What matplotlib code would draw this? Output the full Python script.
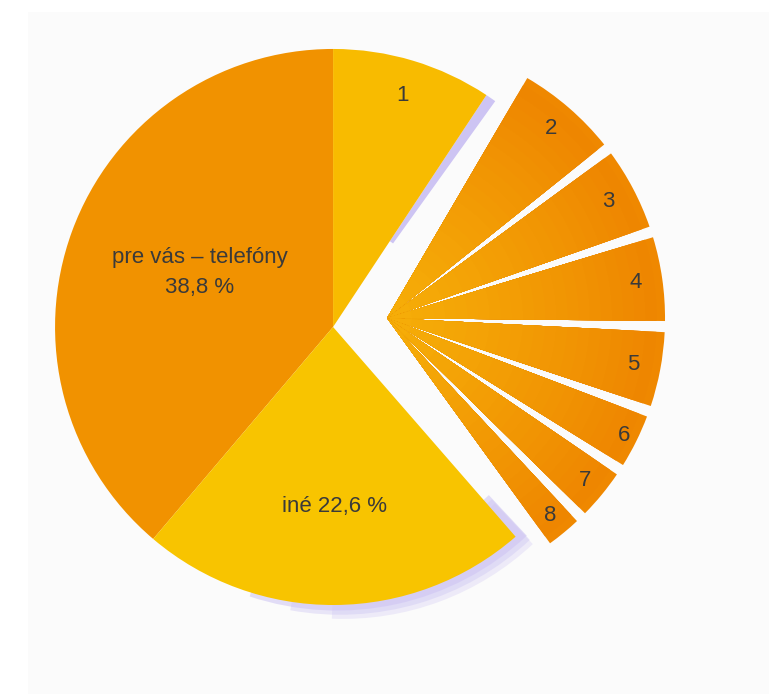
import numpy as np
import matplotlib
matplotlib.use("Agg")
import matplotlib.pyplot as plt
from matplotlib.patches import Wedge, Rectangle
from matplotlib.colors import to_rgb

# Shares of the main pie (%), counter-clockwise from 12 o'clock
main_names = ["pre vás – telefóny\n38,8 %", "iné 22,6 %", "", "1"]
main_values = [38.8, 22.6, 29.3, 9.3]
main_colors = ["#f19200", "#f8c400", "#ffffff", "#f8bb00"]
main_label_dist = [0.51, 0.645, 0.0, 0.87]
main_label_nudge = [4, 0, 0, 0]   # vertical nudge in points

# Breakdown of the detached block, clockwise from the top
group_names = ["2", "3", "4", "5", "6", "7", "8"]
group_values = [5.9, 4.9, 5.0, 4.5, 3.4, 3.2, 2.4]
group_label_dist = [0.90, 0.90, 0.905, 0.90, 0.95, 0.92, 0.92]

FAN_DEG = 116.1        # angular width of the fanned-out block
FAN_START = 60.85      # start angle of the block
GAP_DEG = 2.3          # white gap between the detached slices
APEX = (0.194, 0.032)  # common apex of the detached block

fig = plt.figure(figsize=(7.69, 6.94), dpi=100)
fig.patch.set_facecolor("white")
fig.add_artist(Rectangle((28 / 769, 0), 1, (694 - 12) / 694,
                         transform=fig.transFigure, facecolor="#fbfbfb",
                         edgecolor="none", zorder=-5))
ax = fig.add_axes([0, 0, 1, 1])
ax.patch.set_visible(False)

text_kw = dict(family=["Liberation Sans", "DejaVu Sans"], fontsize=16,
               color="#3a3a3a", ha="center", va="center", zorder=10)

# main pie
mw, _ = ax.pie(main_values, startangle=90, counterclock=True, radius=1.0,
               colors=main_colors, wedgeprops=dict(linewidth=0, zorder=3))
mw[2].set_visible(False)

# soft lavender shadows behind slice 1 and "iné"
lav = "#cdc4f3"
s1 = mw[3]
ax.add_patch(Wedge((0, 0), 1.0, s1.theta1 - 2.2, s1.theta1, width=0.63,
                   facecolor=lav, edgecolor="none", zorder=1))
ine = mw[1]
for k, a, start in zip([0.4, 0.7, 1.0], [0.55, 0.4, 0.3], [22, 30, 38]):
    ax.add_patch(Wedge((0.036 * k, -0.05 * k), 1.0, ine.theta1 + start,
                       ine.theta2 + 2.0, width=0.2, facecolor=lav,
                       edgecolor="none", alpha=a, zorder=1))

for w, name, d, dy in zip(mw, main_names, main_label_dist, main_label_nudge):
    if not name:
        continue
    mid = np.deg2rad(0.5 * (w.theta1 + w.theta2))
    ax.annotate(name, (d * np.cos(mid), d * np.sin(mid)), xytext=(0, dy),
                textcoords="offset points", linespacing=1.6, **text_kw)

# detached block, fanned out around its own apex
gv = np.array(group_values)
fracs = gv / gv.sum() * FAN_DEG / 360.0
gw, _ = ax.pie(fracs, normalize=False, startangle=FAN_START, counterclock=False,
               center=APEX, radius=1.0, colors=["#ef8800"] * len(gv),
               wedgeprops=dict(linewidth=0, zorder=3))

inner_c = np.array(to_rgb("#f6ae08"))
outer_c = np.array(to_rgb("#ee8500"))
for w, name, d in zip(gw, group_names, group_label_dist):
    w.set_theta1(w.theta1 + GAP_DEG / 2)
    w.set_theta2(w.theta2 - GAP_DEG / 2)
    # radial shading: lighter towards the apex
    for r in np.linspace(0.97, 0.05, 24):
        t = r ** 1.2
        col = inner_c * (1 - t) + outer_c * t
        ax.add_patch(Wedge(w.center, r, w.theta1, w.theta2, facecolor=col,
                           edgecolor="none", zorder=3.5))
    mid = np.deg2rad(0.5 * (w.theta1 + w.theta2))
    ax.text(APEX[0] + d * np.cos(mid), APEX[1] + d * np.sin(mid), name,
            **text_kw)

ax.set_xlim(-1.198, 1.568)
ax.set_ylim(-1.320, 1.176)
ax.set_aspect("equal")
ax.axis("off")

fig.savefig("out.png", dpi=100)
